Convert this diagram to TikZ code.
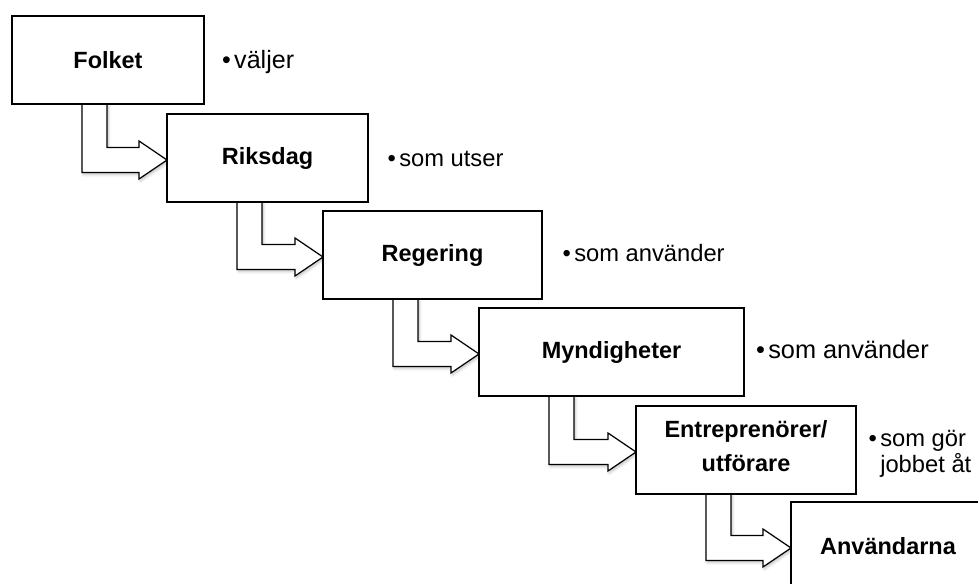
\documentclass[tikz,border=0pt]{standalone}
\usepackage{fontspec}
\setmainfont{Liberation Sans}
\usetikzlibrary{calc,backgrounds,shadows.blur}
\tikzset{>=latex}

\newcommand{\stepbullet}{\llap{\textbullet\hspace{2.5pt}}}

\tikzset{
    stepbox/.style = {draw, line width = 0.9pt, fill = white, minimum height = 66pt,
        outer sep = 0pt, inner sep = 0pt, align = center, anchor = north west,
        font = \fontsize{17.6}{25.5}\selectfont\bfseries},
    steptext/.style = {anchor = base west, inner sep = 0pt, align = left,
        font = \fontsize{17.8}{18.8}\selectfont},
    bentarrow/.style = {draw, line width = 0.9pt, fill = white,
        blur shadow = {shadow xshift = 1pt, shadow yshift = -1.5pt, shadow opacity = 25}},
}

\begin{document}
\begin{tikzpicture}[x = 0.75pt, y = -0.75pt]

    \useasboundingbox (0,0) rectangle (978,583);
    \clip (0,0) rectangle (978,583);

    % the six steps, each one down and to the right of the last
    \node[stepbox, minimum width = 144pt]    (folket)        at (12,16)   {Folket};
    \node[stepbox, minimum width = 150.75pt] (riksdag)       at (167,114) {Riksdag};
    \node[stepbox, minimum width = 164.25pt] (regering)      at (323,211) {Regering};
    \node[stepbox, minimum width = 198.75pt] (myndigheter)   at (479,308) {Myndigheter};
    \node[stepbox, minimum width = 165pt]    (entreprenorer) at (636,406) {Entreprenörer/\\utförare\rule[-6pt]{0pt}{6pt}};
    \node[stepbox, minimum width = 145.5pt]  (anvandarna)    at (791,502) {Användarna};

    % bullet notes beside the boxes
    \node[steptext, font = \fontsize{18.8}{20}\selectfont] (folket-note) at ($(folket.east) + (30, 8)$) {\stepbullet väljer};
    \node[steptext] (riksdag-note) at ($(riksdag.east) + (31, 8)$) {\stepbullet som utser};
    \node[steptext] (regering-note) at ($(regering.east) + (32, 6)$) {\stepbullet som använder};
    \node[steptext, font = \fontsize{19}{20}\selectfont] (myndigheter-note) at ($(myndigheter.east) + (24, 6)$) {\stepbullet som använder};
    \node[steptext] (entreprenorer-note) at ($(entreprenorer.east) + (24, 22)$) {\stepbullet som gör\\jobbet åt};

    \begin{scope}[on background layer]
        % bent arrows: down out of one box, then right into the next
        \draw[bentarrow] ($(folket.south west) + (70,0)$) |- ($(riksdag.west) + (-28,14.5)$) -- ++(0,6.5)
            -- ($(riksdag.west) + (0,2)$) -- ++(-28,-19) -- ++(0,6.5) -| ($(folket.south west) + (95,0)$) -- cycle;
        \draw[bentarrow] ($(riksdag.south west) + (70,0)$) |- ($(regering.west) + (-28,14.5)$) -- ++(0,6.5)
            -- ($(regering.west) + (0,2)$) -- ++(-28,-19) -- ++(0,6.5) -| ($(riksdag.south west) + (95,0)$) -- cycle;
        \draw[bentarrow] ($(regering.south west) + (70,0)$) |- ($(myndigheter.west) + (-28,14.5)$) -- ++(0,6.5)
            -- ($(myndigheter.west) + (0,2)$) -- ++(-28,-19) -- ++(0,6.5) -| ($(regering.south west) + (95,0)$) -- cycle;
        \draw[bentarrow] ($(myndigheter.south west) + (70,0)$) |- ($(entreprenorer.west) + (-28,14.5)$) -- ++(0,6.5)
            -- ($(entreprenorer.west) + (0,2)$) -- ++(-28,-19) -- ++(0,6.5) -| ($(myndigheter.south west) + (95,0)$) -- cycle;
        \draw[bentarrow] ($(entreprenorer.south west) + (70,0)$) |- ($(anvandarna.west) + (-28,14.5)$) -- ++(0,6.5)
            -- ($(anvandarna.west) + (0,2)$) -- ++(-28,-19) -- ++(0,6.5) -| ($(entreprenorer.south west) + (95,0)$) -- cycle;
    \end{scope}

\end{tikzpicture}
\end{document}
